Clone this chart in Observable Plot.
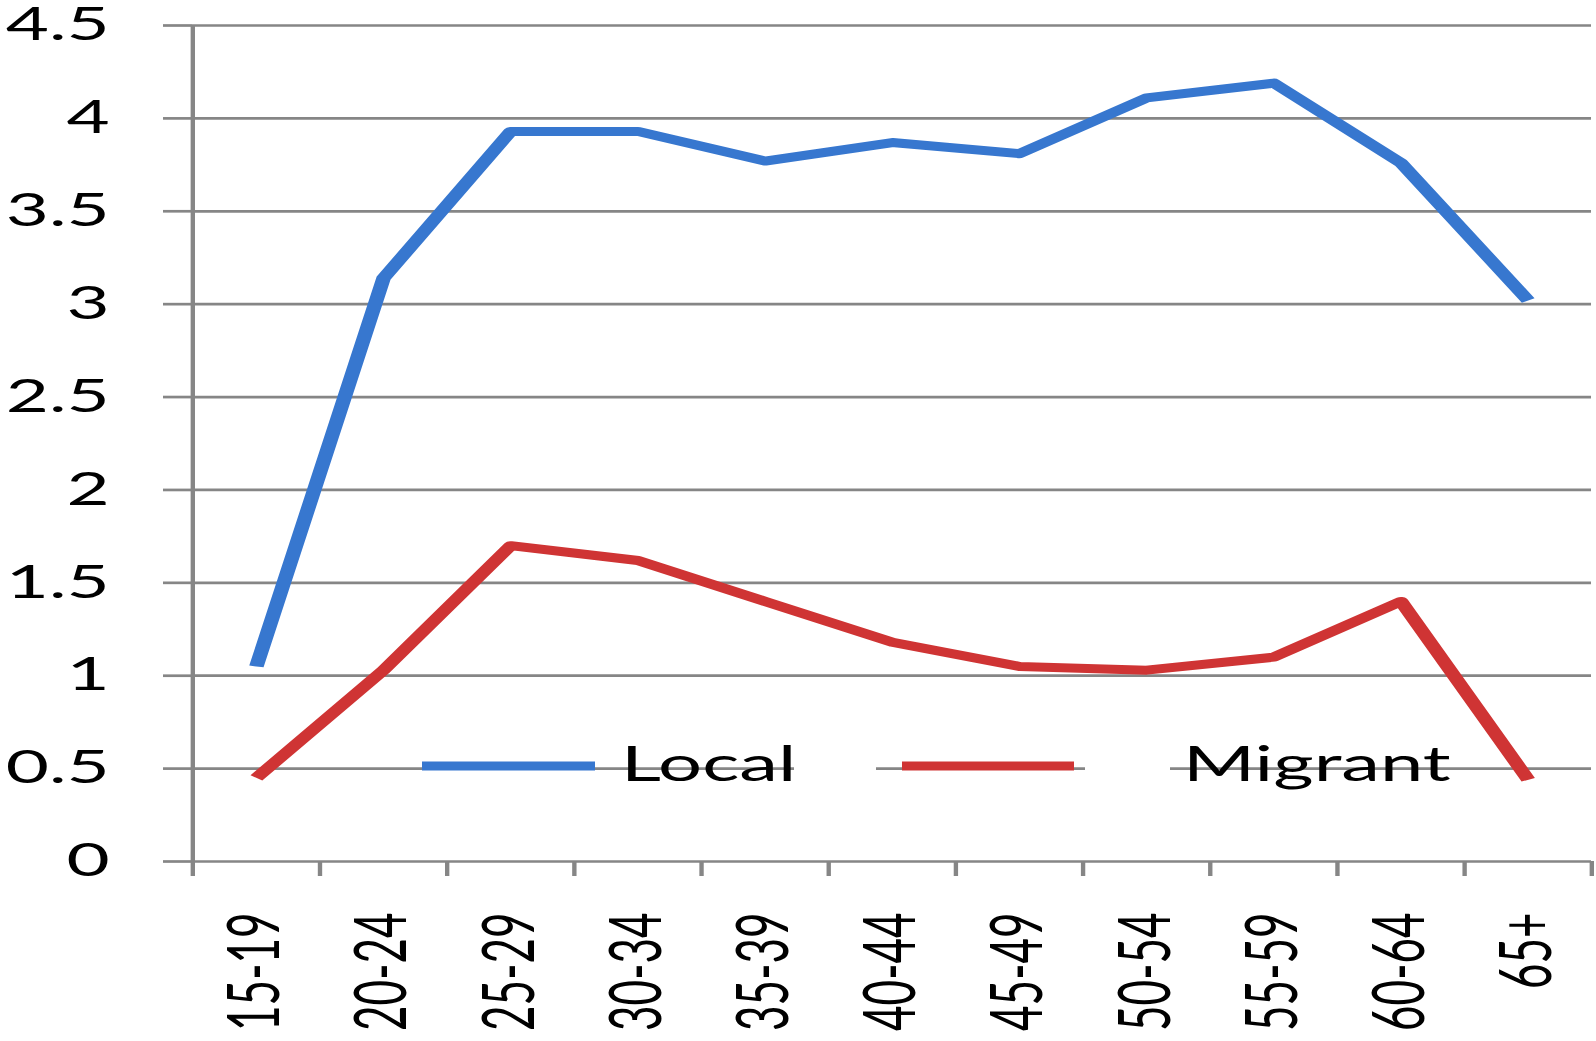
<!DOCTYPE html>
<html>
<head>
<meta charset="utf-8">
<script src="https://cdn.jsdelivr.net/npm/d3@7"></script>
<script src="https://cdn.jsdelivr.net/npm/@observablehq/plot@0.6"></script>
<style>
  html, body { margin: 0; padding: 0; background: #fff; overflow: hidden; }
  #chart { width: 1596px; height: 1041px; }
</style>
</head>
<body>
<div id="chart"></div>
<script>
// Age groups and average values per group
const ageGroups = ["15-19", "20-24", "25-29", "30-34", "35-39", "40-44", "45-49", "50-54", "55-59", "60-64", "65+"];
const localValues = [1.05, 3.14, 3.93, 3.93, 3.77, 3.87, 3.81, 4.11, 4.19, 3.76, 3.02];
const migrantValues = [0.45, 1.03, 1.70, 1.62, 1.40, 1.18, 1.05, 1.03, 1.10, 1.40, 0.44];
const yTicks = [0, 0.5, 1, 1.5, 2, 2.5, 3, 3.5, 4, 4.5];
const seriesNames = ["Local", "Migrant"];
const seriesColors = ["#3777cf", "#cf3434"];

// The chart is laid out in a narrower space and then widened horizontally
const outW = 1596, outH = 1041;
const stretch = 1.62;
const W = outW / stretch;
const gridColor = "#868686";

const rows = ageGroups.map((age, i) => ({ i, age, local: localValues[i], migrant: migrantValues[i] }));
const centers = ageGroups.map((_, i) => i);
const bounds = d3.range(ageGroups.length + 1).map(k => k - 0.5);

const plot = Plot.plot({
  width: W,
  height: outH,
  marginLeft: 192 / stretch,
  marginRight: 5 / stretch,
  marginTop: 25,
  marginBottom: 180,
  style: { fontFamily: "Lato, sans-serif", color: "#000", background: "#fff" },
  x: { type: "linear", domain: [-0.5, ageGroups.length - 0.5] },
  y: { domain: [0, 4.5] },
  marks: [
    Plot.gridY(yTicks, { stroke: gridColor, strokeOpacity: 1, strokeWidth: 2.7 }),
    Plot.axisY(yTicks, {
      tickSize: 29 / stretch, tickPadding: 54 / stretch, stroke: gridColor, strokeWidth: 2.7,
      fontSize: 46, fill: "#000", tickFormat: d => String(d), label: null
    }),
    Plot.ruleX([-0.5], { y1: 0, y2: 4.5, stroke: gridColor, strokeWidth: 2.7 }),
    // category boundary ticks
    Plot.axisX(bounds, { tickSize: 15, stroke: gridColor, strokeWidth: 2.7, fill: "none", label: null }),
    // category labels
    Plot.axisX(centers, {
      tickSize: 0, tickPadding: 51, tickRotate: -90, fontSize: 44, fill: "#000",
      tickFormat: i => ageGroups[i], label: null
    }),
    Plot.line(rows, { x: "i", y: "local", stroke: seriesColors[0], strokeWidth: 9, strokeLinejoin: "round", strokeLinecap: "butt" }),
    Plot.line(rows, { x: "i", y: "migrant", stroke: seriesColors[1], strokeWidth: 9, strokeLinejoin: "round", strokeLinecap: "butt" })
  ]
});

// widen the drawing horizontally
plot.setAttribute("width", outW);
plot.setAttribute("height", outH);
plot.setAttribute("preserveAspectRatio", "none");
plot.style.width = outW + "px";
plot.style.height = outH + "px";
plot.style.maxWidth = "none";

// legend, placed inside the plot area (positions given in output pixels)
const legendY = 766, legendBaseline = 781;
const legendItems = [
  { name: seriesNames[0], color: seriesColors[0], x0: 422, x1: 595, tx: 621 },
  { name: seriesNames[1], color: seriesColors[1], x0: 902, x1: 1074, tx: 1183 }
];
const legendGaps = [[794, 876], [1085, 1170]];
const svg = d3.select(plot);
const lg = svg.append("g").attr("class", "legend");
lg.selectAll("rect")
  .data(legendGaps)
  .join("rect")
  .attr("x", d => d[0] / stretch)
  .attr("width", d => (d[1] - d[0]) / stretch)
  .attr("y", legendY - 4)
  .attr("height", 8)
  .attr("fill", "#fff");
lg.selectAll("line")
  .data(legendItems)
  .join("line")
  .attr("x1", d => d.x0 / stretch)
  .attr("x2", d => d.x1 / stretch)
  .attr("y1", legendY)
  .attr("y2", legendY)
  .attr("stroke", d => d.color)
  .attr("stroke-width", 9);
lg.selectAll("text")
  .data(legendItems)
  .join("text")
  .attr("x", d => d.tx / stretch)
  .attr("y", legendBaseline)
  .attr("text-anchor", "start")
  .attr("font-family", "Lato, sans-serif")
  .attr("font-size", 48)
  .attr("fill", "#000")
  .text(d => d.name);

document.getElementById("chart").appendChild(plot);
</script>
</body>
</html>
